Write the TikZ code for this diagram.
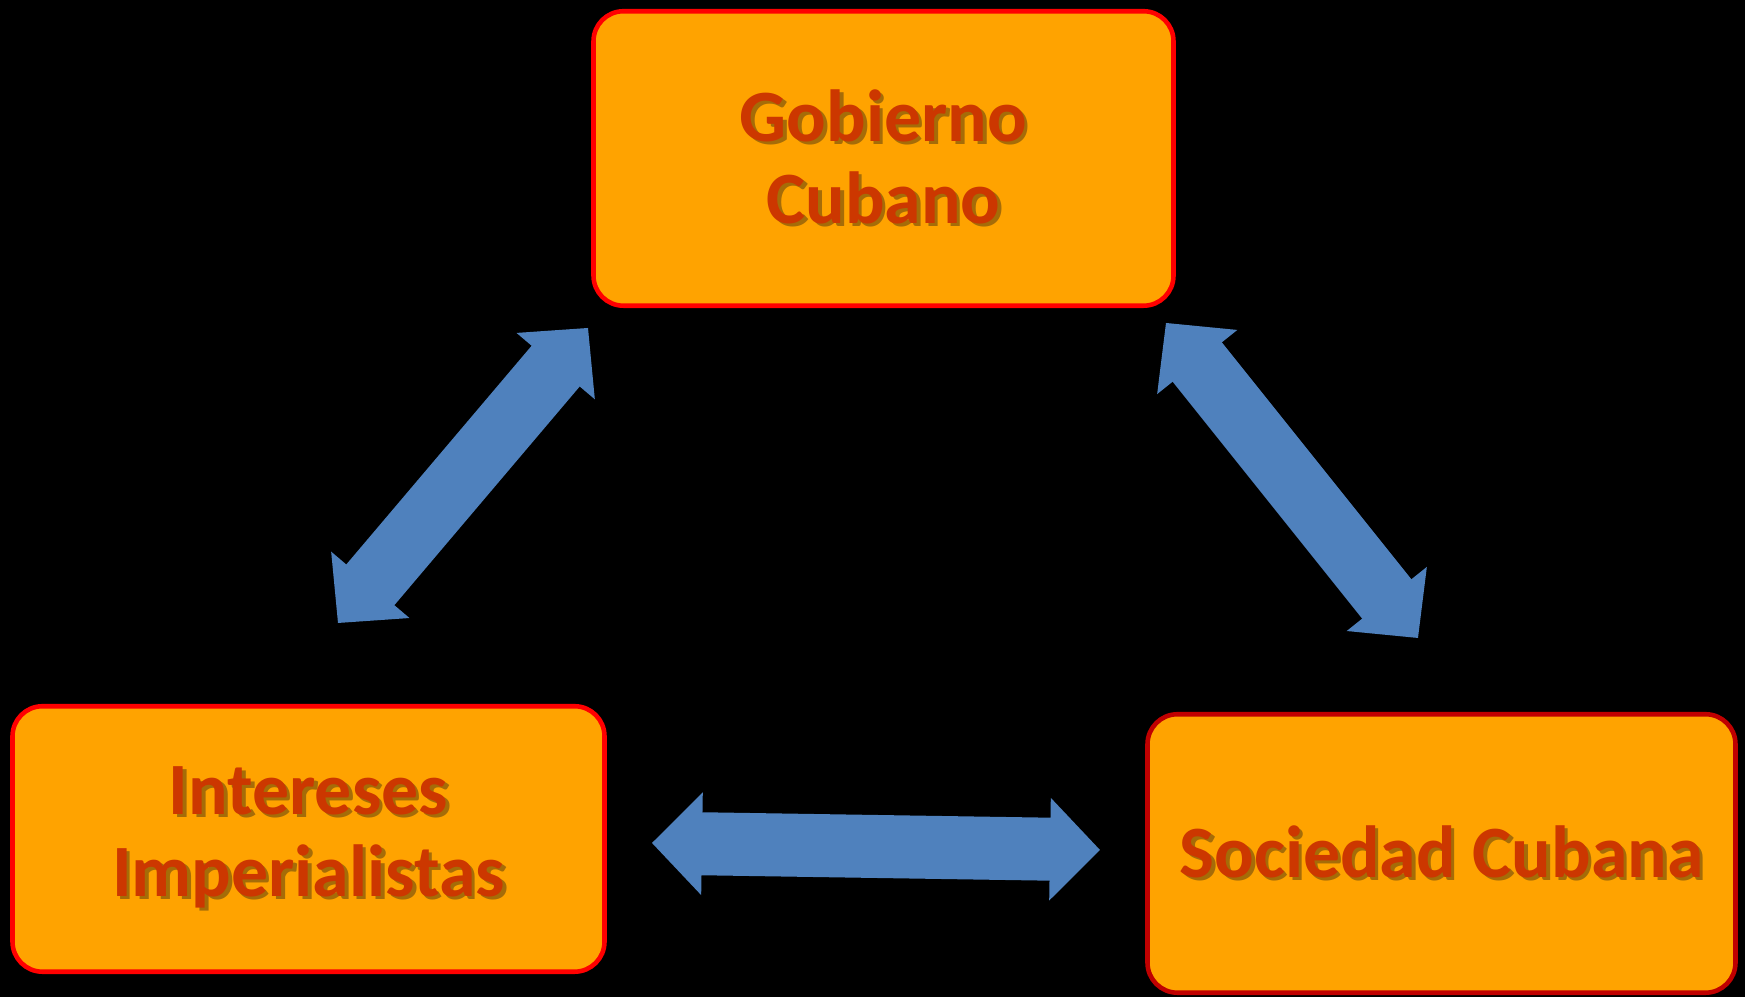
\documentclass[tikz,border=0pt]{standalone}
\usepackage{fontspec}
\setmainfont{Carlito}
\usetikzlibrary{arrows.meta}

\definecolor{boxfill}{RGB}{255,163,0}
\definecolor{boxline}{RGB}{255,0,0}
\definecolor{boxlinedark}{RGB}{192,0,0}
\definecolor{txtred}{RGB}{204,55,0}
\definecolor{txtshadow}{RGB}{165,108,8}
\definecolor{arrowblue}{RGB}{79,129,189}

\newcommand{\shadowtxt}[1]{\rlap{\kern1pt\raisebox{-1pt}{\color{txtshadow}#1}}#1}

\tikzset{
    actor/.style={draw=boxline, line width=1.3pt, fill=boxfill, rounded corners=0.3cm,
        text=txtred, align=center, font=\fontsize{21}{23.3}\selectfont\bfseries},
    link/.style={draw=arrowblue, line width=0.63cm,
        {Triangle[width=1.02cm,length=0.5cm,line width=1pt]}-{Triangle[width=1.02cm,length=0.5cm,line width=1pt]}}
}

\begin{document}
\begin{tikzpicture}
        \fill[black](0,0) rectangle (17.45,9.97);
        \useasboundingbox (0,0) rectangle (17.45,9.97);
        \node[actor, minimum width=5.80cm, minimum height=2.945cm] (gob) at (8.835,8.385) {\shadowtxt{Gobierno}\\\shadowtxt{Cubano}};
        \node[actor, minimum width=5.92cm, minimum height=2.655cm] (imp) at (3.085,1.58) {\shadowtxt{Intereses}\\\shadowtxt{Imperialistas}};
        \node[actor, draw=boxlinedark, minimum width=5.88cm, minimum height=2.785cm] (soc) at (14.415,1.435) {\shadowtxt{Sociedad Cubana}};
        \coordinate (impgob1) at (3.38,3.74);
        \coordinate (impgob2) at (5.88,6.69);
        \coordinate (gobsoc1) at (11.66,6.74);
        \coordinate (gobsoc2) at (14.18,3.59);
        \coordinate (impsoc1) at (6.52,1.54);
        \coordinate (impsoc2) at (11.00,1.47);
        \draw[link](impgob1)--(impgob2);
        \draw[link](gobsoc1)--(gobsoc2);
        \draw[link](impsoc1)--(impsoc2);
    \end{tikzpicture}
\end{document}
